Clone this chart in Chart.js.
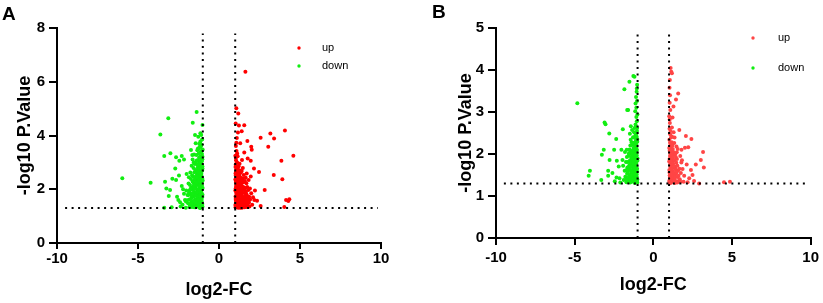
<!DOCTYPE html>
<html>
<head>
<meta charset="utf-8">
<script src="https://cdn.jsdelivr.net/npm/chart.js@4.4.0/dist/chart.umd.min.js"></script>
<style>
  body { margin: 0; background: #fff; width: 823px; height: 303px; position: relative; overflow: hidden; }
  canvas { position: absolute; top: 0; }
  .tag { position: absolute; font: bold 19px "Liberation Sans", Arial, sans-serif; line-height: 19px; color: #000; }
</style>
</head>
<body>
<canvas id="chartA" width="411" height="303" style="left:0"></canvas>
<canvas id="chartB" width="412" height="303" style="left:411px"></canvas>
<div class="tag" style="left:2px;top:4px">A</div>
<div class="tag" style="left:432px;top:2px">B</div>
<script>
// log2 fold change / -log10 p
var xTitle = 'log2-FC';
var yTitle = '-log10 P.Value';
var seriesNames = ['up', 'down'];
var foldCut = [-1, 1];
var pCut = 1.3;
var xRange = [-10, 10];
var yRangeA = [0, 8];
var yRangeB = [0, 5];

var upA = [
  [1.02,1.33],[1.05,1.48],[1.03,1.64],[1.08,1.79],[1.01,1.95],[1.06,2.11],[1.04,2.27],[1.09,2.43],[1.02,2.59],[1.07,2.74],
  [1.03,2.91],[1.05,3.08],[1.01,3.25],[1.08,3.42],[1.04,3.61],[1.07,3.73],[1.03,4.45],[1.07,5.01],[1.19,4.82],[1.17,4.11],
  [1.12,1.41],[1.14,1.57],[1.11,1.72],[1.13,1.88],[1.15,2.04],[1.12,2.19],[1.16,2.35],[1.11,2.51],[1.14,2.67],[1.17,2.83],
  [1.13,2.99],[1.15,3.23],[1.10,3.91],[1.19,1.31],[1.22,1.46],[1.25,1.38],[1.21,1.61],[1.27,1.76],[1.23,1.92],[1.28,2.07],
  [1.20,2.23],[1.26,2.38],[1.24,2.55],[1.29,2.70],[1.21,2.86],[1.31,3.71],[1.23,4.37],[1.33,1.52],[1.32,1.85],[1.34,2.14],
  [1.30,2.46],[1.35,2.61],[1.37,1.35],[1.42,1.44],[1.39,1.59],[1.45,1.71],[1.38,1.83],[1.48,1.98],[1.41,2.12],[1.51,2.26],
  [1.44,2.41],[1.53,2.53],[1.40,2.68],[1.47,2.79],[1.42,3.09],[1.40,4.16],[1.56,4.38],[1.56,3.37],[1.52,1.55],[1.49,1.40],
  [1.58,1.33],[1.63,1.49],[1.68,1.38],[1.61,1.66],[1.72,1.79],[1.66,1.91],[1.79,1.57],[1.74,2.08],[1.83,2.34],[1.69,2.22],
  [1.77,1.45],[1.86,1.72],[1.71,2.59],[1.96,2.47],[1.91,2.03],[1.99,1.85],[1.88,1.36],[1.75,3.80],[1.77,3.14],[1.63,6.37],
  [1.96,3.06],[1.99,3.58],[2.02,3.47],[1.65,2.43],[2.10,1.70],[2.18,1.60],[2.35,1.57],[2.57,1.38],[2.82,1.97],[2.16,2.77],
  [2.47,2.64],[2.57,3.92],[3.17,4.07],[3.40,3.89],[4.07,4.19],[3.04,3.58],[4.59,3.25],[3.85,3.06],[3.38,2.53],[3.91,2.37],
  [4.14,1.60],[4.34,1.63],[4.28,1.56],[4.03,1.34],[2.05,1.42],[2.22,1.95],[1.06,1.39],[1.18,1.68],[1.26,1.99],[1.09,2.15],
  [1.36,2.31],[1.45,1.52],[1.55,1.86],[1.62,2.05],[1.04,2.52],[1.19,2.62],[1.31,1.31],[1.43,2.02],[1.57,1.44],[1.70,1.61],
  [1.01,1.41],[1.04,1.57],[1.02,1.73],[1.06,1.87],[1.03,2.03],[1.08,2.19],[1.01,2.36],[1.05,2.66],[1.02,2.83],[1.09,3.00],
  [1.04,3.17],[1.10,1.33],[1.13,1.49],[1.16,1.63],[1.14,1.80],[1.19,1.96],[1.11,2.08],[1.17,2.26],[1.13,2.43],[1.18,2.73],
  [1.22,1.38],[1.26,1.55],[1.24,1.71],[1.29,1.89],[1.22,2.13],[1.28,2.31],[1.25,2.47],[1.33,1.63],[1.36,1.78],[1.31,1.95],
  [1.38,2.22],[1.34,2.40],[1.42,1.31],[1.46,1.62],[1.43,1.88],[1.50,2.08],[1.47,2.34],[1.54,1.42],[1.59,1.74],[1.57,2.00],
  [1.64,1.58],[1.67,1.83],[1.73,1.34],[1.78,1.68],[1.81,1.97],[1.85,1.51],[1.92,1.62],[1.60,2.31],[1.27,2.95],[1.12,3.33]
];
var downA = [
  [-1.02,1.35],[-1.05,1.52],[-1.03,1.71],[-1.08,1.88],[-1.01,2.05],[-1.06,2.22],[-1.04,2.41],[-1.09,2.58],[-1.02,2.77],[-1.07,2.93],
  [-1.03,3.12],[-1.05,3.31],[-1.01,3.48],[-1.08,3.66],[-1.04,3.85],[-1.02,4.39],[-1.10,4.02],[-1.12,1.44],[-1.14,1.63],[-1.11,1.96],
  [-1.13,2.14],[-1.15,2.33],[-1.12,2.49],[-1.16,2.68],[-1.11,2.85],[-1.14,3.02],[-1.17,3.21],[-1.13,3.39],[-1.18,3.58],[-1.15,3.78],
  [-1.19,1.31],[-1.22,1.49],[-1.25,1.58],[-1.21,1.77],[-1.27,1.85],[-1.23,2.02],[-1.28,2.19],[-1.20,2.27],[-1.26,2.44],[-1.24,2.61],
  [-1.29,2.72],[-1.21,2.89],[-1.27,3.06],[-1.23,3.17],[-1.25,3.33],[-1.30,3.52],[-1.22,3.69],[-1.28,3.95],[-1.32,1.36],[-1.35,1.55],
  [-1.38,1.42],[-1.31,1.68],[-1.41,1.81],[-1.34,1.93],[-1.44,2.08],[-1.37,2.16],[-1.33,2.31],[-1.42,2.39],[-1.36,2.55],[-1.40,2.66],
  [-1.31,2.81],[-1.43,2.97],[-1.35,3.08],[-1.39,3.27],[-1.44,3.71],[-1.48,4.02],[-1.38,4.87],[-1.46,1.33],[-1.51,1.47],[-1.55,1.39],
  [-1.48,1.62],[-1.58,1.73],[-1.53,1.87],[-1.62,1.97],[-1.47,2.11],[-1.56,2.24],[-1.50,2.36],[-1.60,2.48],[-1.52,2.63],[-1.57,2.79],
  [-1.49,2.94],[-1.63,3.11],[-1.54,3.29],[-1.65,3.27],[-1.62,4.47],[-1.67,1.34],[-1.72,1.51],[-1.78,1.40],[-1.69,1.69],[-1.84,1.62],
  [-1.75,1.83],[-1.81,1.95],[-1.71,2.06],[-1.88,2.21],[-1.79,2.16],[-1.73,2.38],[-1.86,2.45],[-1.77,2.62],[-1.69,2.87],[-1.73,3.46],
  [-1.91,1.48],[-1.94,1.79],[-1.66,2.52],[-2.04,1.54],[-2.10,1.60],[-1.89,1.79],[-2.00,2.57],[-2.16,3.11],[-2.30,3.24],[-2.45,3.06],
  [-2.65,3.19],[-3.00,3.34],[-3.38,3.24],[-2.70,2.77],[-2.47,2.51],[-2.88,2.39],[-2.65,2.34],[-3.33,2.28],[-3.25,2.03],[-3.10,1.75],
  [-3.02,1.97],[-2.59,1.72],[-2.30,2.12],[-2.22,2.00],[-2.51,1.60],[-3.38,1.31],[-2.92,1.33],[-2.25,1.42],[-2.37,1.36],[-2.05,1.31],
  [-2.16,1.83],[-2.40,1.52],[-2.02,1.95],[-3.13,4.64],[-3.62,4.04],[-4.22,2.24],[-5.97,2.41],[-1.15,4.08],[-1.06,1.42],[-1.18,1.83],
  [-1.09,2.31],[-1.24,2.35],[-1.33,1.99],[-1.45,2.46],[-1.04,2.69],[-1.20,2.96],[-1.58,2.07],[-1.42,1.58],[-1.67,1.78],[-1.10,3.16],
  [-1.03,1.45],[-1.07,1.61],[-1.02,1.80],[-1.09,1.99],[-1.05,2.14],[-1.01,2.33],[-1.08,2.50],[-1.03,2.86],[-1.06,3.04],[-1.02,3.21],
  [-1.09,3.41],[-1.16,1.30],[-1.19,1.52],[-1.17,1.72],[-1.21,1.93],[-1.18,2.11],[-1.22,2.38],[-1.19,2.55],[-1.23,2.79],[-1.18,2.98],
  [-1.26,1.40],[-1.29,1.62],[-1.27,2.28],[-1.31,2.50],[-1.28,2.63],[-1.33,2.92],[-1.37,1.74],[-1.39,1.88],[-1.41,2.24],[-1.36,2.45],
  [-1.44,1.50],[-1.47,1.77],[-1.50,2.01],[-1.46,2.72],[-1.53,1.33],[-1.55,2.15],[-1.59,1.55],[-1.61,1.84],[-1.63,2.29],[-1.70,1.45],
  [-1.74,1.62],[-1.82,1.35],[-1.85,1.88],[-1.76,2.01],[-1.97,1.59],[-1.34,3.45],[-1.24,3.52],[-1.12,3.60],[-1.40,3.05],[-1.56,3.00]
];
var upB = [
  [1.02,1.31],[1.05,1.43],[1.03,1.56],[1.08,1.69],[1.01,1.82],[1.06,1.95],[1.04,2.08],[1.09,2.21],[1.02,2.34],[1.07,2.47],
  [1.03,2.60],[1.05,2.74],[1.01,2.90],[1.08,3.05],[1.04,3.22],[1.06,3.40],[1.03,3.58],[1.05,3.76],[1.14,3.96],[1.10,4.05],
  [1.18,3.92],[1.12,1.37],[1.14,1.50],[1.11,1.63],[1.16,1.76],[1.13,1.89],[1.15,2.02],[1.12,2.15],[1.17,2.28],[1.19,2.41],
  [1.22,2.87],[1.28,3.13],[1.44,3.30],[1.58,3.44],[1.21,1.34],[1.25,1.46],[1.23,1.59],[1.28,1.72],[1.26,1.84],[1.31,1.98],
  [1.24,2.12],[1.33,2.26],[1.29,2.52],[1.36,1.39],[1.41,1.52],[1.38,1.66],[1.46,1.79],[1.43,1.93],[1.49,2.04],[1.52,1.32],
  [1.55,1.45],[1.58,1.61],[1.35,2.39],[1.47,2.18],[1.65,2.57],[2.07,2.43],[2.42,2.36],[2.01,2.15],[2.22,2.16],[1.79,2.10],
  [3.16,2.05],[3.02,1.86],[2.70,1.75],[3.21,1.68],[2.39,1.62],[1.86,1.64],[2.49,1.50],[2.28,1.42],[2.59,1.36],[2.91,1.30],
  [4.49,1.33],[4.87,1.34],[1.92,1.34],[1.68,1.40],[1.75,1.55],[1.82,1.85],[1.96,1.48],[2.12,1.75],[1.71,1.95],[2.18,1.33],
  [1.07,1.36],[1.20,1.53],[1.32,1.41],[1.09,1.75],[1.40,1.70],[1.62,1.36],[1.18,2.63],[1.27,2.00],[1.50,1.88],[1.37,1.31],
  [1.01,1.36],[1.04,1.49],[1.02,1.62],[1.07,1.75],[1.03,1.88],[1.08,2.01],[1.01,2.14],[1.06,2.27],[1.10,1.31],[1.13,1.43],
  [1.11,1.56],[1.15,1.69],[1.12,1.82],[1.17,1.95],[1.14,2.08],[1.19,1.40],[1.22,1.52],[1.20,1.66],[1.25,1.78],[1.22,1.91],
  [1.27,2.05],[1.29,1.37],[1.32,1.55],[1.30,1.70],[1.35,1.86],[1.39,1.45],[1.42,1.63],[1.45,1.34],[1.48,1.56],[1.53,1.72],
  [1.60,1.48],[1.66,1.65],[1.72,1.34],[1.78,1.80],[1.09,2.55],[1.04,2.82],[1.13,2.40],[1.21,2.20],[1.40,2.00],[1.55,2.12]
];
var downB = [
  [-1.02,1.32],[-1.05,1.45],[-1.03,1.58],[-1.08,1.71],[-1.01,1.84],[-1.06,1.97],[-1.04,2.10],[-1.09,2.23],[-1.02,2.36],[-1.07,2.49],
  [-1.03,2.62],[-1.05,2.78],[-1.01,2.94],[-1.08,3.10],[-1.04,3.26],[-1.06,3.48],[-1.03,3.65],[-1.10,3.36],[-1.12,1.39],[-1.14,1.52],
  [-1.11,1.66],[-1.13,1.79],[-1.15,1.92],[-1.12,2.05],[-1.16,2.18],[-1.11,2.31],[-1.14,2.44],[-1.13,2.70],[-1.15,3.02],[-1.20,3.84],
  [-1.18,1.31],[-1.22,1.43],[-1.25,1.36],[-1.21,1.56],[-1.27,1.63],[-1.23,1.75],[-1.28,1.88],[-1.20,2.01],[-1.26,2.14],[-1.24,2.27],
  [-1.29,2.40],[-1.22,2.52],[-1.27,3.86],[-1.31,1.48],[-1.33,1.69],[-1.34,1.95],[-1.30,2.22],[-1.35,2.57],[-1.37,1.34],[-1.42,1.41],
  [-1.39,1.55],[-1.45,1.62],[-1.38,1.77],[-1.48,1.85],[-1.41,2.00],[-1.51,2.11],[-1.44,2.34],[-1.52,1.50],[-1.47,1.32],[-1.56,1.45],
  [-1.54,1.72],[-1.58,1.96],[-1.52,3.72],[-1.60,3.05],[-1.43,2.66],[-1.49,2.48],[-1.63,1.38],[-1.67,1.53],[-1.71,1.33],[-1.65,1.68],
  [-1.74,1.81],[-1.78,1.46],[-1.69,2.10],[-1.82,1.60],[-1.88,1.38],[-1.92,1.72],[-1.84,3.54],[-1.66,3.05],[-1.94,2.59],[-1.96,1.86],
  [-1.80,2.05],[-2.03,2.10],[-2.15,1.42],[-2.20,1.70],[-2.32,1.84],[-2.34,1.44],[-2.36,2.36],[-2.45,1.35],[-2.49,2.10],[-2.80,2.49],
  [-2.78,1.86],[-2.87,1.60],[-2.87,1.48],[-3.04,2.71],[-3.10,2.75],[-3.15,2.10],[-3.27,1.98],[-3.31,1.38],[-4.03,1.60],[-4.11,1.48],
  [-4.83,3.21],[-2.60,1.55],[-2.10,1.32],[-1.06,1.38],[-1.17,1.62],[-1.09,1.91],[-1.25,2.05],[-1.36,1.80],[-1.46,2.20],[-1.19,2.62],
  [-1.02,1.39],[-1.06,1.51],[-1.03,1.65],[-1.08,1.77],[-1.01,1.90],[-1.05,2.03],[-1.09,2.16],[-1.02,2.29],[-1.07,2.42],[-1.04,2.55],
  [-1.12,1.33],[-1.15,1.46],[-1.13,1.59],[-1.17,1.72],[-1.14,1.85],[-1.18,1.99],[-1.12,2.12],[-1.17,2.25],[-1.16,2.38],[-1.21,1.38],
  [-1.24,1.50],[-1.22,1.69],[-1.26,1.82],[-1.23,1.95],[-1.28,2.08],[-1.21,2.20],[-1.32,1.36],[-1.35,1.57],[-1.30,1.76],[-1.36,1.89],
  [-1.33,2.07],[-1.38,2.28],[-1.41,1.46],[-1.44,1.70],[-1.40,1.92],[-1.46,2.07],[-1.50,1.40],[-1.53,1.63],[-1.49,1.79],[-1.57,1.34],
  [-1.61,1.57],[-1.55,2.02],[-1.64,1.81],[-1.70,1.62],[-1.73,1.40],[-1.68,1.93],[-1.10,2.64],[-1.08,2.88],[-1.13,3.20],[-1.05,3.56]
];

var FONT = '"Liberation Sans", Arial, Helvetica, sans-serif';
Chart.defaults.font.family = FONT;
Chart.defaults.color = '#000';

function dot_set(label, points, color) {
  var data = [];
  for (var i = 0; i < points.length; i++) {
    data.push({x: points[i][0], y: points[i][1]});
  }
  return {
    label: label,
    data: data,
    backgroundColor: color,
    borderWidth: 0,
    pointRadius: 2,
    pointHoverRadius: 2,
    order: 2
  };
}

function cut_line(from, to) {
  return {
    label: '',
    data: [from, to],
    showLine: true,
    borderColor: '#000',
    borderWidth: 2,
    borderDash: [2, 4.5],
    pointRadius: 0,
    order: 1
  };
}

// legend drawn inside the plot, one row per named series
var insideLegend = {
  id: 'insideLegend',
  afterDatasetsDraw: function (chart, args, opts) {
    var ctx = chart.ctx;
    var row = 0;
    ctx.save();
    ctx.font = opts.fontSize + 'px ' + FONT;
    ctx.textBaseline = 'middle';
    chart.data.datasets.forEach(function (ds) {
      if (!ds.label) return;
      var y = opts.y + row * opts.gap;
      ctx.fillStyle = ds.backgroundColor;
      ctx.beginPath();
      ctx.arc(opts.x, y, opts.r, 0, Math.PI * 2);
      ctx.fill();
      ctx.fillStyle = '#000';
      ctx.fillText(ds.label, opts.x + opts.textDx, y);
      row++;
    });
    ctx.restore();
  }
};

function draw_volcano(EleID, up, down, yRange, upColor, downColor, lay) {
  var tickFont = {size: 15, weight: 'bold'};
  var titleFont = {size: 18, weight: 'bold'};
  var xLo = xRange[0] + 0.5, xHi = xRange[1] - 0.2, yHi = yRange[1] - lay.lineGap;
  var config = {
    type: 'scatter',
    data: {
      datasets: [
        dot_set(seriesNames[0], up, upColor),
        dot_set(seriesNames[1], down, downColor),
        cut_line({x: foldCut[0], y: yRange[0]}, {x: foldCut[0], y: yHi}),
        cut_line({x: foldCut[1], y: yRange[0]}, {x: foldCut[1], y: yHi}),
        cut_line({x: xLo, y: pCut}, {x: xHi, y: pCut})
      ]
    },
    options: {
      responsive: false,
      animation: false,
      events: [],
      layout: {padding: {left: 0, top: 28, right: lay.right, bottom: 0}},
      plugins: {
        legend: {display: false},
        tooltip: {enabled: false},
        insideLegend: lay.legend
      },
      scales: {
        x: {
          type: 'linear',
          min: xRange[0],
          max: xRange[1],
          ticks: {stepSize: 5, font: tickFont, color: '#000', padding: lay.xTickPad, maxRotation: 0},
          grid: {display: true, drawOnChartArea: false, drawTicks: true, tickLength: lay.xTickLen, color: '#000', lineWidth: 2},
          border: {display: true, color: '#000', width: 2},
          title: {display: true, text: xTitle, font: titleFont, color: '#000', padding: {top: 0, bottom: lay.xTitlePad}},
          afterFit: function (s) { s.height = lay.xAxisH; }
        },
        y: {
          type: 'linear',
          min: yRange[0],
          max: yRange[1],
          ticks: {stepSize: lay.yStep, font: tickFont, color: '#000', padding: 4},
          grid: {display: true, drawOnChartArea: false, drawTicks: true, tickLength: 8, color: '#000', lineWidth: 2},
          border: {display: true, color: '#000', width: 2},
          title: {display: true, text: yTitle, font: titleFont, color: '#000', padding: {top: lay.yTitlePad, bottom: 0}},
          afterFit: function (s) { s.width = lay.yAxisW; }
        }
      }
    },
    plugins: [insideLegend]
  };
  return new Chart(document.getElementById(EleID).getContext('2d'), config);
}

draw_volcano('chartA', upA, downA, yRangeA, '#ff0000', '#11ee11', {
  right: 30, yAxisW: 57, xAxisH: 60, yStep: 2, lineGap: 0.2,
  xTickLen: 6, xTickPad: 1, xTitlePad: 2, yTitlePad: 14,
  legend: {x: 299, y: 48, gap: 18, r: 1.7, textDx: 23, fontSize: 11}
});
draw_volcano('chartB', upB, downB, yRangeB, '#ff4545', '#11ee11', {
  right: 11, yAxisW: 85, xAxisH: 65, yStep: 1, lineGap: 0.12,
  xTickLen: 7, xTickPad: 4, xTitlePad: 7, yTitlePad: 44,
  legend: {x: 342, y: 38, gap: 30, r: 1.7, textDx: 25, fontSize: 11}
});
</script>
</body>
</html>
